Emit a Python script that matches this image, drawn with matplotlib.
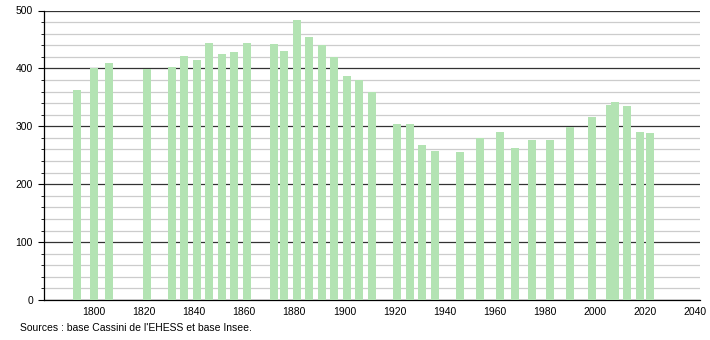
import matplotlib
matplotlib.use("Agg")
import matplotlib.pyplot as plt
from matplotlib.ticker import MultipleLocator

# Années des recensements et population
annees = [1793, 1800, 1806, 1821, 1831, 1836, 1841, 1846, 1851, 1856,
          1861, 1872, 1876, 1881, 1886, 1891, 1896, 1901, 1906, 1911,
          1921, 1926, 1931, 1936, 1946, 1954, 1962, 1968, 1975, 1982,
          1990, 1999, 2006, 2008, 2013, 2018, 2022]
population = [362, 400, 409, 399, 403, 421, 415, 444, 425, 428,
              444, 442, 430, 484, 454, 440, 420, 387, 380, 359,
              304, 304, 268, 258, 256, 280, 290, 263, 276, 276,
              298, 316, 337, 342, 335, 290, 288]

source = "Sources : base Cassini de l'EHESS et base Insee."

plt.rcParams['font.family'] = ['Liberation Sans', 'DejaVu Sans']

fig = plt.figure(figsize=(7.1, 3.4), dpi=100)
ax = fig.add_axes([44 / 710, 1 - 300 / 340, 656 / 710, 289.5 / 340])

ax.bar(annees, population, width=3.2, color='#b3e3b3', zorder=3)

ax.set_xlim(1780, 2042)
ax.set_ylim(0, 500)
ax.xaxis.set_major_locator(MultipleLocator(20))
ax.yaxis.set_major_locator(MultipleLocator(100))
ax.yaxis.set_minor_locator(MultipleLocator(20))

ax.grid(axis='y', which='major', color='#333333', linewidth=0.9, zorder=1)
ax.grid(axis='y', which='minor', color='#cccccc', linewidth=0.9, zorder=1)

for s in ['top', 'right']:
    ax.spines[s].set_visible(False)
ax.spines['left'].set_linewidth(0.9)
ax.spines['bottom'].set_linewidth(0.9)

ax.tick_params(axis='x', length=0, labelsize=7.5, pad=5)
ax.tick_params(axis='y', which='major', length=4, labelsize=7.5, pad=4)
ax.tick_params(axis='y', which='minor', length=2)

labels = [str(int(t)) if t >= 1800 else '' for t in ax.get_xticks()]
ax.set_xticks(ax.get_xticks())
ax.set_xticklabels(labels)
ax.set_xlim(1780, 2042)

fig.text(20 / 710, 1 - 328 / 340, source, fontsize=7.5, va='center', ha='left')

fig.savefig("out.png", dpi=100)
